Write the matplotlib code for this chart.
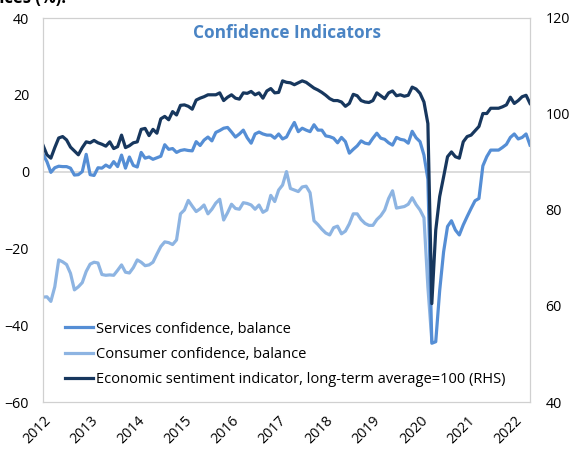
import numpy as np
import matplotlib
matplotlib.use("Agg")
import matplotlib.pyplot as plt

plt.rcParams['font.family'] = ['Open Sans', 'DejaVu Sans']

# monthly data, Jan 2012 - May 2022
years = ["2012", "2013", "2014", "2015", "2016", "2017", "2018", "2019", "2020", "2021", "2022"]

services = [4.5, 2.6, -0.2, 1.0, 1.4, 1.3, 1.3, 0.9, -0.9, -0.8, 0.0, 4.5,
            -0.8, -1.0, 1.0, 0.9, 1.7, 1.1, 2.6, 1.3, 4.3, 0.9, 3.8, 1.6,
            1.2, 5.0, 3.5, 3.8, 3.2, 3.6, 4.0, 7.0, 5.8, 6.0, 5.0, 5.5,
            5.7, 5.5, 5.4, 7.8, 6.8, 8.2, 9.0, 8.0, 10.2, 10.7, 11.3, 11.5,
            10.3, 9.0, 9.8, 10.8, 8.8, 7.4, 9.8, 10.3, 9.8, 9.5, 9.5, 8.7,
            9.8, 8.5, 9.0, 11.0, 12.8, 10.4, 11.3, 10.8, 10.4, 12.2, 10.8, 10.8,
            9.3, 9.1, 8.7, 7.5, 8.9, 7.8, 4.8, 5.8, 6.7, 8.0, 7.4, 7.2,
            8.7, 10.0, 8.7, 8.4, 7.5, 6.9, 8.9, 8.4, 8.2, 7.4, 10.5, 8.8,
            7.8, 4.3, -2.0, -44.7, -44.3, -31.0, -20.9, -14.3, -12.8, -15.2, -16.5, -13.9,
            -11.7, -9.6, -7.6, -7.0, 1.5, 3.9, 5.6, 5.6, 5.6, 6.3, 7.1, 8.9,
            9.8, 8.5, 8.9, 9.8, 6.9]

consumer = [-32.7, -32.6, -33.8, -30.0, -23.0, -23.5, -24.2, -26.5, -30.8, -30.0, -28.9, -26.0,
            -24.1, -23.6, -23.8, -26.8, -27.0, -26.9, -27.0, -25.7, -24.3, -26.2, -26.4, -25.0,
            -23.0, -23.6, -24.5, -24.3, -23.6, -21.5, -19.5, -18.3, -18.5, -19.0, -17.8, -11.0,
            -10.0, -7.5, -9.0, -10.4, -9.7, -8.7, -11.0, -9.8, -8.2, -7.2, -12.6, -10.7,
            -8.5, -9.6, -9.8, -8.1, -8.3, -8.7, -9.8, -8.7, -10.6, -10.0, -6.2, -7.8,
            -4.8, -3.5, 0.0, -4.4, -4.8, -5.2, -4.0, -3.8, -5.5, -12.8, -13.8, -15.0,
            -16.0, -16.5, -14.6, -14.2, -16.2, -15.5, -13.6, -11.0, -11.0, -12.5, -13.5, -14.0,
            -14.0, -12.5, -11.5, -10.0, -7.0, -5.0, -9.5, -9.3, -9.1, -8.5, -6.8, -8.6,
            -10.0, -12.0, -30.0, -44.0]

esi = [93.5, 91.5, 90.8, 93.0, 95.0, 95.3, 94.6, 93.1, 92.3, 91.5, 93.0, 94.2,
       94.0, 94.5, 94.0, 93.7, 93.3, 94.2, 92.8, 93.2, 95.6, 93.0, 93.4, 94.0,
       94.2, 96.8, 97.0, 95.5, 96.8, 96.0, 99.0, 99.5, 98.8, 100.5, 99.8, 101.8,
       101.9, 101.6, 101.0, 102.9, 103.3, 103.6, 104.0, 104.0, 104.0, 104.4, 102.8, 103.5,
       104.0, 103.3, 103.1, 104.4, 104.3, 104.7, 104.0, 104.4, 103.3, 104.8, 105.3, 104.4,
       104.5, 106.9, 106.6, 106.5, 106.1, 106.5, 106.9, 106.6, 106.0, 105.4, 105.0, 104.5,
       103.9, 103.2, 102.8, 102.8, 102.5, 101.6, 102.2, 104.1, 103.8, 102.8, 102.5, 102.4,
       102.8, 104.4, 103.8, 103.2, 104.4, 104.8, 103.8, 104.0, 103.7, 103.9, 105.6, 105.2,
       104.3, 102.5, 98.0, 60.5, 75.8, 82.8, 86.9, 91.1, 92.1, 91.1, 90.8, 94.2,
       95.3, 95.6, 96.5, 97.4, 100.1, 100.1, 101.2, 101.2, 101.2, 101.5, 101.9, 103.5,
       102.2, 102.8, 103.6, 103.9, 102.2]

n = len(esi)
x = np.arange(n)
cons = np.full(n, np.nan)
cons[:len(consumer)] = consumer

c_serv = '#558ed5'
c_cons = '#8db4e2'
c_esi = '#17375e'
c_grey = '#d0d0d0'

fig = plt.figure(figsize=(5.73, 4.51), dpi=100)
ax = fig.add_axes([43/573, 1-402/451, 487/573, 384/451])
ax2 = ax.twinx()

ax.axhline(0, color='#d9d9d9', lw=1.3, zorder=1)
l2, = ax.plot(x, cons, color=c_cons, lw=2.3, zorder=2,
              label="Consumer confidence, balance", solid_joinstyle='round')
l1, = ax.plot(x, services, color=c_serv, lw=2.3, zorder=3,
              label="Services confidence, balance", solid_joinstyle='round')
l3, = ax2.plot(x, esi, color=c_esi, lw=2.3,
               label="Economic sentiment indicator, long-term average=100 (RHS)",
               solid_joinstyle='round')

ax.set_xlim(0, n-1)
ax.set_ylim(-60, 40)
ax.set_yticks(range(-60, 41, 20))
ax2.set_ylim(40, 120)
ax2.set_yticks(range(40, 121, 20))

ax.set_xticks(range(0, n, 12))
ax.set_xticklabels(years, rotation=45, ha='right', rotation_mode='anchor')

for a in (ax, ax2):
    a.tick_params(length=0, labelsize=10.3, colors='#000000')
    for s in a.spines.values():
        s.set_color(c_grey)
ax.tick_params(axis='y', pad=10)
ax.tick_params(axis='x', pad=8)
ax2.tick_params(axis='y', pad=11)

ax2.legend(handles=[l1, l2, l3], loc='lower left', bbox_to_anchor=(0.033, 0.024),
           frameon=False, fontsize=10.5, handlelength=1.9, handletextpad=0.25,
           labelspacing=0.7, borderaxespad=0)

fig.text(287/573, 1-33/451, "Confidence Indicators", ha='center', va='center',
         fontsize=12.4, fontweight='bold', color='#4a84c4')
fig.text(66/573, 1-3/451, "Balances (%).", ha='right', va='baseline',
         fontsize=12, fontweight='bold', color='black')

fig.savefig("out.png", dpi=100)
